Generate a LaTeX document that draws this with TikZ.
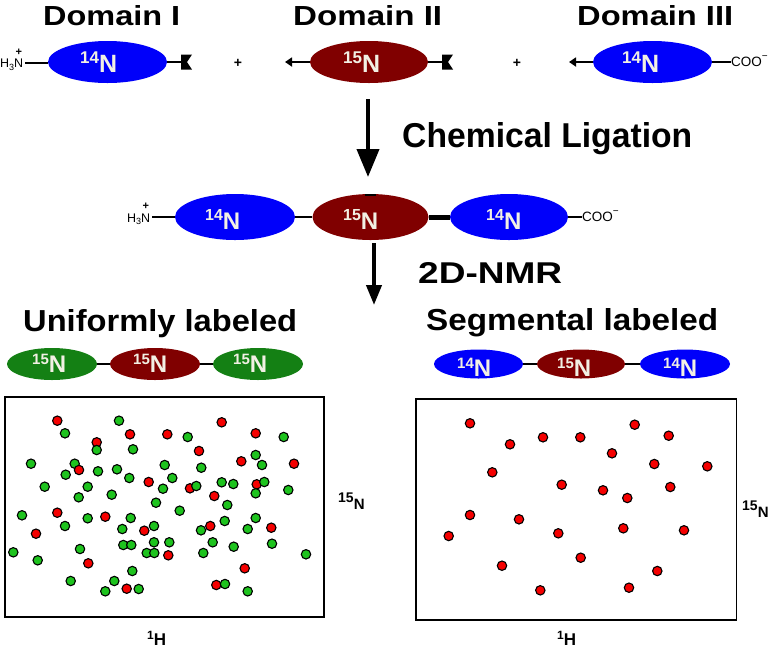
\documentclass[tikz,border=0pt]{standalone}
\usepackage{fontspec}
\setmainfont{Liberation Sans}
\usetikzlibrary{shapes.geometric,arrows.meta,calc}
\definecolor{nblue}{RGB}{0,0,250}
\definecolor{nmaroon}{RGB}{128,0,0}
\definecolor{ngreen}{RGB}{20,128,20}
\definecolor{dgreen}{RGB}{30,195,30}
\definecolor{dred}{RGB}{245,0,0}
\definecolor{ntext}{RGB}{242,240,228}
\newcommand{\hdtxt}[3]{\resizebox{#1pt}{#2pt}{\bfseries #3}}
\newcommand{\iso}[4]{{\fontsize{#1}{#1}\selectfont\bfseries\raisebox{#3pt}{\fontsize{#2}{#2}\selectfont #4}N}}
\newcommand{\hthree}{{\fontsize{12.5}{12.5}\selectfont H\raisebox{-2.5pt}{\fontsize{9}{9}\selectfont 3}N}}
\newcommand{\coo}{{\fontsize{13.5}{13.5}\selectfont COO\raisebox{7pt}{\fontsize{10}{10}\selectfont −}}}
\tikzset{
  dom/.style={ellipse, inner sep=0pt, draw=none},
  lbl/.style={inner sep=0pt, anchor=base west, text=ntext},
  txt/.style={inner sep=0pt, anchor=base west},
  plus/.style={inner sep=0pt, anchor=south, font=\fontsize{11}{11}\selectfont\bfseries},
  conn/.style={line width=2.7pt},
  bigarrow/.style={line width=4pt, -{Triangle[length=28pt,width=22pt]}},
  tail/.style={line width=2.5pt, -{Triangle[length=7pt,width=9pt]}},
  specbox/.style={line width=1.5pt},
  rd/.style={fill=dred, draw=black, line width=1.1pt},
  gd/.style={fill=dgreen, draw=black, line width=1.1pt}
}
\begin{document}
\begin{tikzpicture}[x=1pt,y=-1pt]
\useasboundingbox (0,0) rectangle (774,649);

% headings
\node[txt] (h1) at (43,25) {\hdtxt{137}{20}{Domain I}};
\node[txt] (h2) at (293,25) {\hdtxt{149}{20}{Domain II}};
\node[txt] (h3) at (577,25) {\hdtxt{156}{20}{Domain III}};

% top row
\node[dom, fill=nblue, minimum width=119, minimum height=42] (e1) at (107.5,62) {};
\node[lbl] (t1) at (80,72) {\iso{25}{17}{9}{14}};
\node[txt] (n1) at (0,67.5) {\hthree};
\node[plus] (q1) at ($(n1.north east)+(-4.5,-3.5)$) {+};
\draw[conn] (n1.east |- e1.west) ++(2,1) coordinate (n1r) -- (e1.west |- n1r);
\coordinate (k1) at (181,62);
\draw[conn] (e1.east) -- (k1);
\fill (k1) ++(0,-7.5) -- ++(11,0) -- ++(-5,7.5) -- ++(5,7.5) -- ++(-11,0) -- cycle;
\node[inner sep=0pt] (p1) at (238,63) {\fontsize{14}{14}\selectfont\bfseries +};

\node[dom, fill=nmaroon, minimum width=118, minimum height=42] (e2) at (369,62) {};
\node[lbl] (t2) at (343,72) {\iso{25}{17}{9}{15}};
\coordinate (a2) at (285,62);
\draw[tail] (e2.west) -- (a2);
\coordinate (k2) at (442,62);
\draw[conn] (e2.east) -- (k2);
\fill (k2) ++(0,-7.5) -- ++(11,0) -- ++(-5,7.5) -- ++(5,7.5) -- ++(-11,0) -- cycle;
\node[inner sep=0pt] (p2) at (517,63) {\fontsize{14}{14}\selectfont\bfseries +};

\node[dom, fill=nblue, minimum width=119, minimum height=42] (e3) at (652.5,62) {};
\node[lbl] (t3) at (622,72) {\iso{25}{17}{9}{14}};
\coordinate (a3) at (569,62);
\draw[tail] (e3.west) -- (a3);
\node[txt] (c1) at (731,66.5) {\coo};
\draw[conn] (e3.east) -- (c1.west |- e3.east);

% arrow 1
\coordinate (ar1s) at (368,99);
\coordinate (ar1e) at (368,177);
\draw[bigarrow] (ar1s) -- (ar1e);
\node[txt] (cl) at (402,147) {\hdtxt{290}{25}{Chemical Ligation}};

% middle chain
\node[dom, fill=nblue, minimum width=120, minimum height=46] (m1) at (235,217) {};
\node[dom, fill=nmaroon, minimum width=116, minimum height=46] (m2) at (370.5,217) {};
\node[dom, fill=nblue, minimum width=118, minimum height=46] (m3) at (509,217) {};
\node[lbl] (mt1) at (205,229) {\iso{24}{16}{9}{14}};
\node[lbl] (mt2) at (343,229) {\iso{24}{16}{9}{15}};
\node[lbl] (mt3) at (486,229) {\iso{24}{16}{9}{14}};
\node[txt] (n2) at (127,222) {\hthree};
\node[plus] (q2) at ($(n2.north east)+(-4.5,-3.5)$) {+};
\draw[conn] (n2.east |- m1.west) ++(2,0) coordinate (n2r) -- (m1.west);
\draw[conn] (m1.east) -- (m2.west);
\draw[line width=5pt] (m2.east) -- (m3.west);
\node[txt] (c2) at (582,221.5) {\coo};
\draw[conn] (m3.east) -- (c2.west |- m3.east);
\draw[line width=2pt] ($(m2.north)+(-6,1)$) -- ($(m2.north)+(5,1)$);

% arrow 2
\coordinate (ar2s) at (374,243);
\coordinate (ar2e) at (374,305);
\draw[line width=4pt, -{Triangle[length=20pt,width=15pt]}] (ar2s) -- (ar2e);
\node[txt] (nmr) at (418,283) {\hdtxt{144}{21}{2D-NMR}};

% bottom headings
\node[txt] (ul) at (23,331.5) {\hdtxt{274}{22}{Uniformly labeled}};
\node[txt] (sl) at (426,330) {\hdtxt{292}{22}{Segmental labeled}};

% uniform chain
\node[dom, fill=ngreen, minimum width=90, minimum height=32] (u1) at (52,364) {};
\node[dom, fill=nmaroon, minimum width=90, minimum height=32] (u2) at (155,364) {};
\node[dom, fill=ngreen, minimum width=90, minimum height=32] (u3) at (258,364) {};
\draw[conn] (u1.east) -- (u2.west);
\draw[conn] (u2.east) -- (u3.west);
\node[lbl] (ut1) at (32,372) {\iso{24}{15}{8}{15}};
\node[lbl] (ut2) at (133,372) {\iso{24}{15}{8}{15}};
\node[lbl] (ut3) at (233,372) {\iso{24}{15}{8}{15}};

% segmental chain
\node[dom, fill=nblue, minimum width=89, minimum height=29] (s1) at (478.5,364) {};
\node[dom, fill=nmaroon, minimum width=88, minimum height=29] (s2) at (581,364) {};
\node[dom, fill=nblue, minimum width=90, minimum height=29] (s3) at (685,364) {};
\draw[conn] (s1.east) -- (s2.west);
\draw[conn] (s2.east) -- (s3.west);
\node[lbl] (st1) at (457,376) {\iso{24}{15}{8}{14}};
\node[lbl] (st2) at (557,376) {\iso{24}{15}{8}{15}};
\node[lbl] (st3) at (663,376) {\iso{24}{15}{8}{14}};

% spectra boxes
\draw[specbox] (5,397) rectangle (324,617);
\draw[specbox] (416,399) rectangle (736.5,620);

\foreach \x/\y in {57.3/420.7,96.7/442.3,130/434.3,167.3/434.3,221.7/422.3,255.7/433.3,199/451,241.3/461.3,294/463.7,148.7/482,190/488.3,256.7/484.3,214.3/496,57.3/512.7,105.3/516.7,36/533.7,144.3/530.7,210.3/526,271.3/527.7,168.3/555.3,88.3/563.3,244.7/568.3,126.7/588.7,216.3/585}
  \draw[rd] (\x,\y) circle (4.7);
\foreach \x/\y in {119/420.7,65/433.3,96.7/450,133/449.3,187.7/437,283.7/437,31/463.7,74.7/463.7,65.7/474.7,98/471.3,117/469.3,129.3/478,164.7/465,201.3/467.7,255.7/455,262/465,44.7/486.7,87.7/486.7,78.7/497.3,111.7/494.7,163/488.7,172.3/478,196.3/486,221.7/482.3,233.3/484,255.7/493.3,264.3/482,288.3/490,156/502.7,179.7/510.7,227.3/505,22/515.3,65/526,87.7/518.3,130.7/518,122.3/529,154/526,201/530.3,224.7/521,247.7/529,255.7/518,13.3/552.3,37.7/560.3,80/549,123.3/545,131.3/545,154/542.3,169.3/542.3,146.7/553,154.3/553,203.3/553,212.7/542.3,233.7/546.7,272/543.7,306/554.3,132.3/571,70.7/581,114.3/581,105.3/591.3,138.7/589,225/584,247.7/591.3}
  \draw[gd] (\x,\y) circle (4.7);
\draw[rd] (79,470) circle (4.7);

\foreach \x/\y in {470/423.3,510/444.3,543/437.3,580.3/437.3,634.7/424.7,668.7/435.7,612/453.3,654.3/464,707.3/466.3,492.3/472.3,561.7/484.7,603/490.3,627.3/498,670.3/487,470/515,519/519.3,448.7/536,558.3/533.3,623.3/528.3,684/530.3,580.7/557.7,502/565.7,657.3/571,540.3/590.3,629/587.7}
  \draw[rd] (\x,\y) circle (4.7);

% axis labels
\node[txt] (y1) at (338,502) {\fontsize{14}{14}\selectfont\bfseries 15\raisebox{-7pt}{\fontsize{15}{15}\selectfont N}};
\node[txt] (y2) at (742,510) {\fontsize{14}{14}\selectfont\bfseries 15\raisebox{-7pt}{\fontsize{15}{15}\selectfont N}};
\node[txt] (x1) at (147,645) {\fontsize{17}{17}\selectfont\bfseries\raisebox{6pt}{\fontsize{12}{12}\selectfont 1}H};
\node[txt] (x2) at (557,645) {\fontsize{17}{17}\selectfont\bfseries\raisebox{6pt}{\fontsize{12}{12}\selectfont 1}H};
\end{tikzpicture}
\end{document}
